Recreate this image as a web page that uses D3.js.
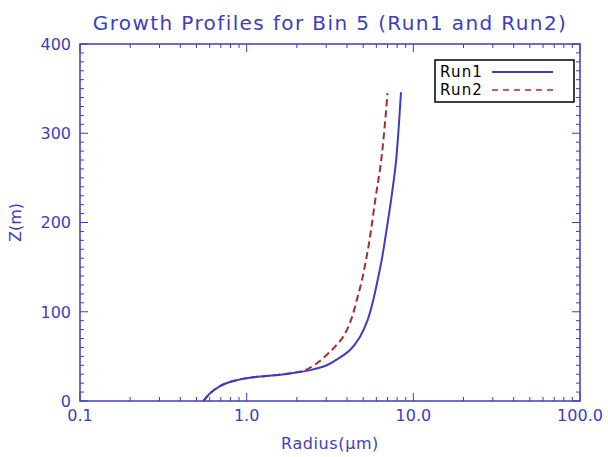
<!DOCTYPE html>
<meta charset="utf-8">
<script src="https://d3js.org/d3.v7.min.js"></script>
<style>
  body { margin: 0; background: #fff; }
  text { font-family: "DejaVu Sans", sans-serif; }
</style>
<div id="chart"></div>
<script>

    // heights (m) and radius (um)
    var run1Z      = [0, 8.6, 16.8, 22.4, 26.1, 28, 30.9, 34.6, 40.3, 47.6, 57.1, 72.1, 90.8, 113.2, 135.6, 158, 180.4, 229, 266.3, 303.6, 346];
    var run1Radius = [0.55, 0.603, 0.692, 0.831, 1.047, 1.318, 1.82, 2.40, 3.05, 3.55, 4.17, 4.79, 5.32, 5.75, 6.11, 6.46, 6.76, 7.4, 7.85, 8.15, 8.43];
    var run2Z      = [0, 8.6, 16.8, 22.4, 26.1, 28, 30.9, 34.0, 40.3, 51.5, 60.9, 72.1, 90.8, 113.2, 135.6, 158, 180.4, 229, 266.3, 303.6, 345];
    var run2Radius = [0.55, 0.603, 0.692, 0.831, 1.047, 1.318, 1.80, 2.2, 2.55, 3.02, 3.39, 3.80, 4.23, 4.58, 4.92, 5.2, 5.46, 5.95, 6.38, 6.7, 7.0];

    var seriesNames = ["Run1", "Run2"];
    var xTickLabels = ["0.1", "1.0", "10.0", "100.0"];
    var yTicks = [0, 100, 200, 300, 400];

    var blue = "#3c3cc8";
    var red = "#b0282c";

    var width = 608, height = 457;
    var margin = {top: 44, right: 28, bottom: 56, left: 80};

    var svg = d3.select("#chart")
      .append("svg")
        .attr("width", width)
        .attr("height", height);

    var x = d3.scaleLog()
        .domain([0.1, 100])
        .range([margin.left, width - margin.right]);

    var y = d3.scaleLinear()
        .domain([0, 400])
        .range([height - margin.bottom, margin.top]);

    // minor ticks
    var xMinor = [];
    [0.1, 1, 10].forEach(function (d) {
        for (var k = 2; k <= 9; k++) xMinor.push(d * k);
    });
    var yMinor = d3.range(0, 401, 10).filter(function (d) { return d % 100 !== 0; });
    var xMajor = [0.1, 1, 10, 100];

    // frame
    svg.append("rect")
        .attr("x", x.range()[0])
        .attr("y", y.range()[1])
        .attr("width", x.range()[1] - x.range()[0])
        .attr("height", y.range()[0] - y.range()[1])
        .attr("fill", "none")
        .attr("stroke", blue)
        .attr("stroke-width", 1.5);

    var ticks = svg.append("g").attr("stroke", blue).attr("stroke-width", 1);

    // bottom & top x ticks
    function xTicks(vals, len) {
        vals.forEach(function (d) {
            ticks.append("line")
                .attr("x1", x(d)).attr("x2", x(d))
                .attr("y1", y(0)).attr("y2", y(0) - len);
            ticks.append("line")
                .attr("x1", x(d)).attr("x2", x(d))
                .attr("y1", y(400)).attr("y2", y(400) + len);
        });
    }
    xTicks(xMinor, 4);
    xTicks(xMajor, 8);

    // left & right y ticks
    function yTickLines(vals, len) {
        vals.forEach(function (d) {
            ticks.append("line")
                .attr("x1", x(0.1)).attr("x2", x(0.1) + len)
                .attr("y1", y(d)).attr("y2", y(d));
            ticks.append("line")
                .attr("x1", x(100)).attr("x2", x(100) - len)
                .attr("y1", y(d)).attr("y2", y(d));
        });
    }
    yTickLines(yMinor, 4);
    yTickLines(yTicks, 8);

    // tick labels
    svg.append("g").selectAll("text")
        .data(xMajor)
        .enter().append("text")
        .attr("x", function (d) { return x(d); })
        .attr("y", y(0) + 20)
        .attr("text-anchor", "middle")
        .attr("font-size", 16)
        .attr("fill", blue)
        .text(function (d, i) { return xTickLabels[i]; });

    svg.append("g").selectAll("text")
        .data(yTicks)
        .enter().append("text")
        .attr("x", x(0.1) - 9)
        .attr("y", function (d) { return y(d); })
        .attr("dy", "0.36em")
        .attr("text-anchor", "end")
        .attr("font-size", 16)
        .attr("fill", blue)
        .text(function (d) { return d; });

    // title and axis labels
    svg.append("text")
        .attr("x", (x.range()[0] + x.range()[1]) / 2)
        .attr("y", 30)
        .attr("text-anchor", "middle")
        .attr("font-size", 20)
        .attr("letter-spacing", 1.4)
        .attr("fill", blue)
        .text("Growth Profiles for Bin 5 (Run1 and Run2)");

    svg.append("text")
        .attr("x", (x.range()[0] + x.range()[1]) / 2)
        .attr("y", 449)
        .attr("text-anchor", "middle")
        .attr("font-size", 16)
        .attr("letter-spacing", 0.6)
        .attr("fill", blue)
        .text("Radius(\u03BCm)");

    svg.append("text")
        .attr("transform", "translate(21," + y(200) + ") rotate(-90)")
        .attr("text-anchor", "middle")
        .attr("font-size", 16)
        .attr("fill", blue)
        .text("Z(m)");

    // curves
    var line = d3.line()
        .x(function (d) { return x(d[0]); })
        .y(function (d) { return y(d[1]); })
        .curve(d3.curveCatmullRom);

    var run1 = run1Z.map(function (z, i) { return [run1Radius[i], z]; });
    var run2 = run2Z.map(function (z, i) { return [run2Radius[i], z]; });

    svg.append("path")
        .datum(run2)
        .attr("d", line)
        .attr("fill", "none")
        .attr("stroke", red)
        .attr("stroke-width", 2)
        .attr("stroke-dasharray", "7,4");

    svg.append("path")
        .datum(run1)
        .attr("d", line)
        .attr("fill", "none")
        .attr("stroke", blue)
        .attr("stroke-width", 2);

    // legend
    var legend = svg.append("g");
    legend.append("rect")
        .attr("x", 435).attr("y", 60)
        .attr("width", 139).attr("height", 42)
        .attr("fill", "#fff")
        .attr("stroke", "#000")
        .attr("stroke-width", 1.5);

    seriesNames.forEach(function (name, i) {
        legend.append("text")
            .attr("x", 440)
            .attr("y", 77 + i * 18)
            .attr("font-size", 15)
            .attr("letter-spacing", 1.2)
            .attr("fill", "#000")
            .text(name);
        legend.append("line")
            .attr("x1", 492).attr("x2", 553)
            .attr("y1", 72 + i * 18).attr("y2", 72 + i * 18)
            .attr("stroke", i === 0 ? blue : red)
            .attr("stroke-width", i === 0 ? 2 : 1.5)
            .attr("stroke-dasharray", i === 0 ? null : "6,5");
    });

</script>
